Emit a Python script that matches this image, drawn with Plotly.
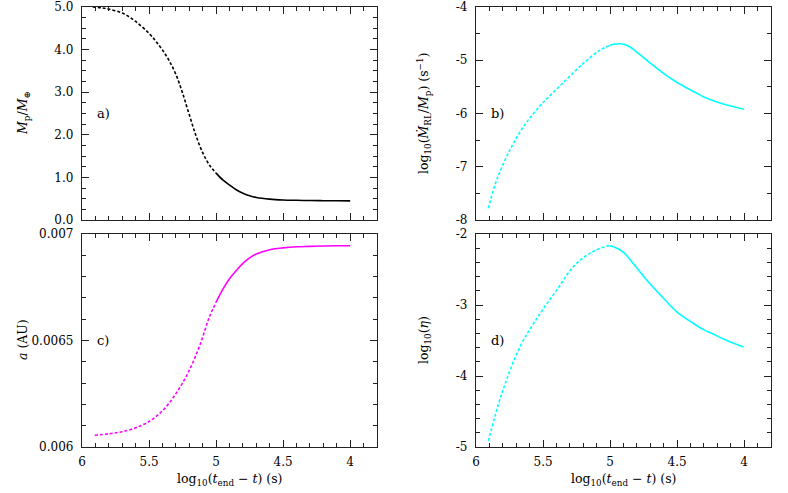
import numpy as np
import plotly.graph_objects as go

# log10(t_end - t) sample points
x_mp = [5.92, 5.85, 5.8, 5.7, 5.6, 5.5, 5.45, 5.4, 5.35, 5.3, 5.25, 5.2, 5.15, 5.1, 5.05,
        5.0, 4.95, 4.9, 4.85, 4.8, 4.75, 4.7, 4.6, 4.5, 4.4, 4.3, 4.2, 4.1, 4.0]
mp = [5.0, 4.98, 4.95, 4.86, 4.66, 4.38, 4.2, 3.99, 3.74, 3.42, 2.98, 2.47, 1.98, 1.58,
      1.29, 1.1, 0.94, 0.82, 0.71, 0.63, 0.57, 0.53, 0.49, 0.47, 0.462, 0.456, 0.453,
      0.451, 0.45]

x_a = [5.905, 5.8, 5.7, 5.6, 5.5, 5.4, 5.3, 5.2, 5.12, 5.05, 5.0, 4.95, 4.9, 4.85,
       4.8, 4.75, 4.7, 4.6, 4.5, 4.4, 4.3, 4.2, 4.1, 4.0]
a_au = [0.006055, 0.006062, 0.006072, 0.00609, 0.00612, 0.00617, 0.00625, 0.00636,
        0.00648, 0.00661, 0.00668, 0.00674, 0.00679, 0.006828, 0.006862, 0.006888,
        0.006906, 0.006926, 0.006935, 0.00694, 0.006942, 0.006944, 0.006945, 0.006945]

x_b = [5.908, 5.846, 5.746, 5.647, 5.52, 5.373, 5.2, 5.075, 5.0, 4.975, 4.93, 4.888,
       4.851, 4.8, 4.726, 4.6, 4.478, 4.353, 4.3, 4.24, 4.13, 4.0]
mdot = [-7.78, -7.25, -6.68, -6.25, -5.85, -5.48, -5.06, -4.81, -4.72, -4.70, -4.69,
        -4.71, -4.75, -4.85, -5.0, -5.25, -5.45, -5.62, -5.69, -5.75, -5.84, -5.92]

x_d = [5.908, 5.808, 5.672, 5.522, 5.398, 5.274, 5.149, 5.025, 5.0, 4.975, 4.9, 4.838,
       4.726, 4.614, 4.5, 4.378, 4.3, 4.24, 4.13, 4.005]
eta = [-4.915, -4.25, -3.59, -3.12, -2.79, -2.46, -2.27, -2.17, -2.17, -2.18, -2.26,
       -2.39, -2.65, -2.88, -3.10, -3.26, -3.35, -3.40, -3.50, -3.59]

x_split = 5.0

FONT = "DejaVu Serif, serif"
AX = "#222"


def split(xs, ys):
    xs, ys = np.array(xs), np.array(ys)
    d = xs >= x_split
    s = xs <= x_split
    return (xs[d], ys[d]), (xs[s], ys[s])


fig = go.Figure()

series = [(x_mp, mp, "black", "x", "y"),
          (x_b, mdot, "cyan", "x2", "y2"),
          (x_a, a_au, "magenta", "x3", "y3"),
          (x_d, eta, "cyan", "x4", "y4")]

for xs, ys, col, xa, ya in series:
    (xd, yd), (xs_, ys_) = split(xs, ys)
    fig.add_trace(go.Scatter(x=xd, y=yd, mode="lines", xaxis=xa, yaxis=ya,
                             line=dict(color=col, width=1.6, dash="3px,2px",
                                       shape="spline", smoothing=1.0),
                             showlegend=False))
    fig.add_trace(go.Scatter(x=xs_, y=ys_, mode="lines", xaxis=xa, yaxis=ya,
                             line=dict(color=col, width=1.6, shape="spline",
                                       smoothing=1.0),
                             showlegend=False))


def xaxis(dom, anchor, labels):
    d = dict(domain=dom, anchor=anchor, range=[6, 3.8], showgrid=False, zeroline=False,
             showline=True, linecolor=AX, linewidth=1.3, mirror="ticks",
             ticks="inside", ticklen=7, tickcolor=AX, tickwidth=1,
             tickmode="array", tickvals=[6, 5.5, 5, 4.5, 4],
             ticktext=["6", "5.5", "5", "4.5", "4"] if labels else [""] * 5,
             minor=dict(tickmode="linear", tick0=4, dtick=0.1, ticks="inside",
                        ticklen=4, tickcolor=AX, tickwidth=1),
             ticklabeloverflow="allow", ticklabelstandoff=3,
             automargin=False, tickfont=dict(family=FONT, size=12, color="black"))
    return d


def yaxis(dom, anchor, rng, vals, texts, minor_dt):
    return dict(domain=dom, anchor=anchor, range=rng, showgrid=False, zeroline=False,
                showline=True, linecolor=AX, linewidth=1.3, mirror="ticks",
                ticks="inside", ticklen=7, tickcolor=AX, tickwidth=1,
                tickmode="array", tickvals=vals, ticktext=texts,
                minor=dict(tickmode="linear", tick0=rng[0], dtick=minor_dt, ticks="inside",
                           ticklen=4, tickcolor=AX, tickwidth=1),
                ticklabelstandoff=5, ticklabeloverflow="allow",
                automargin=False, tickfont=dict(family=FONT, size=12, color="black"))


W, H = 788, 493
lx = [82 / W, 377 / W]
rx = [476 / W, 771 / W]
ty = [1 - 220 / H, 1 - 7 / H]
by = [1 - 447 / H, 1 - 234 / H]

fig.update_layout(
    width=W, height=H, margin=dict(l=0, r=0, t=0, b=0),
    plot_bgcolor="white", paper_bgcolor="white",
    font=dict(family=FONT, size=13, color="black"),
    xaxis=xaxis(lx, "y", False),
    xaxis2=xaxis(rx, "y2", False),
    xaxis3=xaxis(lx, "y3", True),
    xaxis4=xaxis(rx, "y4", True),
    yaxis=yaxis(ty, "x", [0, 5], [0, 1, 2, 3, 4, 5],
                ["0.0", "1.0", "2.0", "3.0", "4.0", "5.0"], 0.25),
    yaxis2=yaxis(ty, "x2", [-8, -4], [-8, -7, -6, -5, -4],
                 ["-8", "-7", "-6", "-5", "-4"], 0.5),
    yaxis3=yaxis(by, "x3", [0.006, 0.007], [0.006, 0.0065, 0.007],
                 ["0.006", "0.0065", "0.007"], 0.0001),
    yaxis4=yaxis(by, "x4", [-5, -2], [-5, -4, -3, -2],
                 ["-5", "-4", "-3", "-2"], 0.2),
)

# panel labels
for lab, xa, ya, yv in [("a)", "x", "y", 2.5), ("b)", "x2", "y2", -6),
                        ("c)", "x3", "y3", 0.0065), ("d)", "x4", "y4", -3.5)]:
    fig.add_annotation(text=lab, x=5.9, y=yv, xref=xa, yref=ya, xanchor="left",
                       yanchor="middle", showarrow=False, font=dict(family=FONT, size=13))

# axis titles
xt = "log<sub>10</sub>(<i>t</i><sub>end</sub> − <i>t</i>) (s)"
for cx in [(lx[0] + lx[1]) / 2, (rx[0] + rx[1]) / 2]:
    fig.add_annotation(text=xt, x=cx, y=1 - 479 / H, xref="paper", yref="paper",
                       xanchor="center", yanchor="middle",
                       showarrow=False, font=dict(family=FONT, size=12.5))

ytitles = [("<i>M</i><sub>p</sub>/<i>M</i><sub>⊕</sub>", 23, 113),
           ("<i>a</i> (AU)", 22, 340),
           ("log<sub>10</sub>(<i>Ṁ</i><sub>RL</sub>/<i>M</i><sub>p</sub>) (s<sup>−1</sup>)", 424, 113),
           ("log<sub>10</sub>(<i>η</i>)", 424, 340)]
for t, px_, py_ in ytitles:
    fig.add_annotation(text=t, x=px_ / W, y=1 - py_ / H, xref="paper", yref="paper",
                       xanchor="center", yanchor="middle",
                       textangle=-90, showarrow=False, font=dict(family=FONT, size=12.5))

fig.write_html("out.html", config={"displayModeBar": False},
               post_script="document.body.style.margin='0';")
